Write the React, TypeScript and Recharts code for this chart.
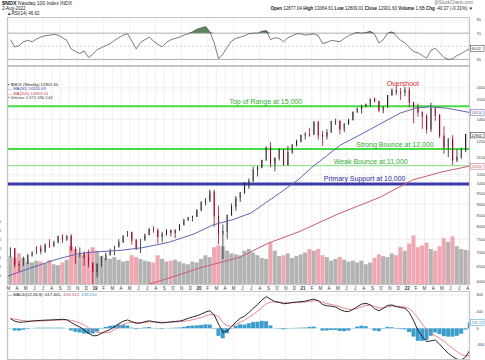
import React from 'react';
import {
  ComposedChart, Bar, Line, Area, XAxis, YAxis, CartesianGrid,
  ReferenceLine, ReferenceDot, Cell,
} from 'recharts';

const FONT = '"Liberation Sans", Arial, sans-serif';
const W = 485;

// time axis: months since Jan 2018, one row per half month from Mar 2018
const t0 = 2.25;
const step = 0.5;
const X_DOMAIN: [number, number] = [1.85, 55.25];

const monthLetters = ['J', 'F', 'M', 'A', 'M', 'J', 'J', 'A', 'S', 'O', 'N', 'D'];
const yearLabels = ['19', '20', '21', '22'];
const monthTicks = Array.from({ length: 54 }, (_, i) => i + 2);

// labels hidden behind the value boxes are left out, as in the original
const priceTicks = [6000, 6500, 7000, 7500, 8000, 8500, 9000, 9500, 10000, 10500, 11500,
  12000, 12500, 13500, 14000, 15000, 15500, 16000, 16500];
const volTicks = [100, 200, 300, 400, 500, 600, 700];
const rsiTicks = [30, 70, 90];
const macdTicks = [-400, -200, 0, 400, 600, 800];

const firstOpen = 6870;
const closes = [
  7150, 6580, 6550, 6620, 6900, 6970, 7170, 7040, 7290, 7240, 7390, 7620, 7470, 7630, 7100, 6960, 6980, 6820, 6610, 6330,
  6580, 6800, 6900, 7050, 7200, 7380, 7620, 7780, 7460, 7130, 7470, 7670, 7900, 7850, 7600, 7700, 7860, 7750, 7850, 8080, 8300, 8400, 8450, 8730,
  9100, 9150, 9600, 8460, 7700, 7810, 8500, 8890, 9300, 9550, 9900, 10150, 10760, 10900, 11300, 12100, 11100, 11420, 11900, 11050, 11800, 12270, 12500, 12890,
  12950, 12930, 13800, 12900, 12800, 13090, 13850, 13860, 13300, 13690, 13950, 14550, 14800, 14960, 15150, 15580, 15400, 14690, 14900, 15850, 16300, 16130, 16100, 16320,
  15300, 14930, 14500, 14240, 13300, 14840, 14300, 12850, 12100, 12640, 11300, 11500, 11900, 12950, 12902,
];
const highs = [
  7190, 7150, 6700, 6850, 6950, 7050, 7230, 7280, 7340, 7500, 7440, 7640, 7700, 7660, 7700, 7220, 7190, 7050, 7100, 6660,
  6620, 6880, 6990, 7140, 7250, 7500, 7660, 7830, 7800, 7520, 7520, 7720, 7950, 8030, 7940, 7800, 7900, 7890, 7900, 8120, 8330, 8420, 8480, 8770,
  9140, 9300, 9720, 9710, 8930, 8100, 8530, 9040, 9390, 9600, 10100, 10300, 10950, 11000, 11350, 12150, 12440, 11500, 12050, 12000, 12190, 12300, 12600, 12940,
  13100, 13400, 13880, 13880, 13200, 13300, 13900, 14060, 13950, 13720, 14050, 14580, 14900, 15120, 15200, 15600, 15700, 15400, 15000, 15900, 16450, 16760, 16500, 16600,
  16570, 15300, 15200, 14600, 14400, 15270, 14900, 14400, 13500, 12700, 12900, 12000, 12100, 13000, 13065,
];
const lows = [
  6850, 6480, 6310, 6530, 6590, 6850, 6950, 6930, 6990, 7170, 7210, 7340, 7360, 7450, 7040, 6600, 6830, 6530, 6480, 5900,
  6150, 6500, 6720, 6900, 6900, 7200, 7360, 7600, 7300, 7090, 6980, 7450, 7660, 7760, 7340, 7380, 7640, 7600, 7550, 7830, 8070, 8250, 8230, 8420,
  8680, 8950, 9110, 8000, 7300, 6770, 7500, 8480, 8700, 9100, 9500, 9750, 10100, 10400, 10850, 11300, 10900, 10680, 11300, 11000, 11000, 11700, 12150, 12400,
  12600, 12800, 12900, 12600, 12200, 12600, 13050, 13600, 12950, 13100, 13600, 13950, 14500, 14430, 14900, 14950, 15300, 14530, 14450, 14900, 15850, 15900, 15500, 15800,
  14900, 13720, 14200, 13320, 13000, 13100, 13900, 12700, 11700, 11500, 11040, 11200, 11400, 11800, 12600,
];
const volumes = [
  320, 300, 350, 300, 260, 250, 270, 260, 240, 280, 230, 220, 250, 280, 430, 400, 340, 330, 370, 420,
  380, 320, 300, 290, 310, 280, 260, 270, 330, 310, 290, 270, 260, 250, 330, 290, 260, 270, 280, 260, 240, 230, 260, 250,
  290, 330, 310, 420, 440, 430, 380, 350, 340, 330, 380, 400, 360, 330, 300, 290, 470, 380, 320, 330, 350, 300, 320, 340,
  360, 400, 380, 400, 330, 310, 270, 290, 310, 280, 260, 270, 250, 270, 230, 250, 300, 340, 320, 310, 350, 330, 420, 380,
  460, 550, 420, 440, 470, 400, 380, 430, 520, 480, 540, 430, 400, 390, 380,
];
const rsi14 = [
  60, 49, 51, 57, 59, 57, 61, 64, 66, 67, 68, 67, 63, 59, 46, 42, 39, 43, 33, 38,
  45, 48, 51, 54, 59, 63, 67, 69, 58, 46, 56, 60, 64, 58, 53, 49, 56, 60, 62, 64,
  67, 69, 72, 76, 78, 80, 72, 55, 31, 38, 49, 58, 62, 64, 66, 69, 70, 70, 73, 74,
  60, 63, 62, 57, 63, 66, 69, 69, 67, 68, 69, 66, 54, 56, 59, 58, 57, 62, 66, 69,
  71, 70, 71, 73, 68, 55, 60, 70, 72, 66, 59, 55, 48, 42, 40, 36, 32, 44, 47, 40,
  33, 30, 31, 36, 39, 43, 46.62,
];
const macdLine = [
  230, 170, 145, 150, 160, 175, 185, 190, 195, 200, 205, 210, 215, 205, 140, 80, 30, -40, -120, -180,
  -175, -120, -70, -30, 40, 110, 170, 200, 160, 120, 125, 160, 180, 160, 140, 130, 140, 155, 165, 175,
  200, 240, 270, 300, 340, 390, 420, 320, 100, -100, -60, 40, 150, 240, 290, 380, 480, 570, 680, 760,
  700, 640, 620, 590, 600, 620, 630, 640, 650, 680, 700, 660, 570, 540, 530, 510, 450, 410, 400, 450,
  520, 580, 600, 560, 470, 420, 480, 550, 560, 520, 500, 480, 380, 180, -50, -200, -320, -300, -280, -380,
  -500, -600, -680, -740, -760, -690, -517,
];
const signalLine = [
  235, 220, 200, 185, 175, 172, 172, 175, 180, 185, 190, 195, 200, 202, 190, 165, 130, 85, 10, -55,
  -95, -110, -105, -90, -30, 20, 85, 130, 145, 140, 135, 140, 150, 155, 150, 145, 143, 145, 150, 156,
  165, 185, 205, 230, 260, 295, 330, 330, 280, 140, 60, 50, 90, 145, 200, 260, 330, 410, 500, 590,
  630, 635, 630, 615, 610, 612, 618, 625, 632, 645, 660, 660, 625, 595, 570, 550, 515, 480, 455, 455,
  480, 515, 550, 555, 525, 490, 490, 515, 535, 530, 520, 508, 470, 380, 250, 100, -40, -120, -180, -240,
  -310, -400, -480, -560, -630, -660, -656,
];
const macdHist = [
  -5, -50, -55, -35, -15, 3, 13, 15, 15, 15, 15, 15, 15, 3, -50, -85, -100, -125, -130, -125,
  -80, -10, 35, 60, 70, 90, 85, 70, 15, -20, -10, 20, 30, 5, -10, -15, -3, 10, 15, 19,
  35, 55, 65, 70, 80, 95, 90, -10, -180, -240, -120, -10, 60, 95, 90, 120, 150, 160, 180, 170,
  70, 5, -10, -25, -10, 8, 12, 15, 18, 35, 40, 0, -55, -55, -40, -40, -65, -70, -55, -5,
  40, 65, 50, 5, -55, -70, -10, 35, 25, -10, -20, -28, -90, -200, -300, -300, -280, -180, -100, -140,
  -190, -200, -200, -180, -130, -30, 139,
];

const ma50T = [1.85, 4, 7.5, 10, 12, 15, 17.5, 20.5, 23.5, 25.6, 28, 30, 33.3, 35.4, 37, 40.3, 42.9, 45.7, 47.2, 49, 50.6, 52.5, 55.25];
const ma50V = [6180, 6400, 6750, 6950, 7020, 7080, 7180, 7380, 7720, 8080, 8320, 8600, 9540, 10210, 10900, 12250, 13020, 13950, 14470, 14850, 14950, 14850, 14510];
const ma200T = [16.5, 20, 24.1, 28.7, 32, 35.6, 40, 44.9, 48.6, 52, 55.25];
const ma200V = [5800, 6080, 6460, 6830, 7350, 7810, 8550, 9340, 10210, 10650, 10980];

const notes = [
  { text: 'Overshoot', t: 47.5, p: 16840, color: '#d42a2a' },
  { text: 'Top of Range at 15,000', t: 31.7, p: 15370, color: '#2fae2f' },
  { text: 'Strong Bounce at 12,000', t: 46.6, p: 12285, color: '#2fae2f' },
  { text: 'Weak Bounce at 11,000', t: 43.8, p: 11243, color: '#2fae2f' },
  { text: 'Primary Support at 10,000', t: 43.1, p: 10264, color: '#2a2a9c' },
];

const PRICE_DOMAIN: [number, number] = [5910, 18490];

const priceRows = closes.map((c, i) => {
  const o = i === 0 ? firstOpen : closes[i - 1];
  return { t: t0 + i * step, o, c, h: highs[i], l: lows[i], hl: [lows[i], highs[i]] };
});
const volRows = volumes.map((v, i) => ({ t: t0 + i * step, v, down: priceRows[i].c < priceRows[i].o }));
const rsiRows = rsi14.map((r, i) => ({ t: t0 + i * step, rsi: r, over: [70, Math.max(70, r)] }));
const macdRows = macdLine.map((m, i) => ({ t: t0 + i * step, macd: m, sig: signalLine[i], hist: macdHist[i] }));
const ma50Rows = ma50T.map((t, i) => ({ t, v: ma50V[i] }));
const ma200Rows = ma200T.map((t, i) => ({ t, v: ma200V[i] }));

const axisTick = { fontSize: 3.9, fill: '#444', fontFamily: FONT };

const MonthTick = (props: any) => {
  const { x, y, payload } = props;
  const v = payload.value;
  const m = v % 12;
  const label = m === 0 ? yearLabels[v / 12 - 1] : monthLetters[m];
  return (
    <text x={x} y={y + 4.5} textAnchor="middle" fontSize={4.5} fontFamily={FONT}
      fontWeight={m === 0 ? 700 : 400} fill="#333">{label}</text>
  );
};

const Candle = (props: any) => {
  const { x, y, width, height, payload } = props;
  if (!payload) return null;
  const { o, c, h, l } = payload;
  const top = Math.min(y, y + height);
  const hh = Math.abs(height);
  const lh = Math.log(h);
  const ll = Math.log(l);
  const py = (v: number) => top + (hh * (lh - Math.log(v))) / (lh - ll);
  const cx = x + width / 2;
  const bTop = py(Math.max(o, c));
  const bBot = py(Math.min(o, c));
  const up = c >= o;
  return (
    <g>
      <line x1={cx} x2={cx} y1={top} y2={top + hh} stroke={up ? '#222' : '#9c0d28'} strokeWidth={0.8} />
      <rect x={x} y={bTop} width={width} height={Math.max(bBot - bTop, 0.8)}
        fill={up ? '#fff' : '#d3183f'} stroke={up ? '#222' : '#8a0a20'} strokeWidth={0.6} />
    </g>
  );
};

const Note = (props: any) => {
  const { cx, cy, text, color } = props;
  return (
    <text x={cx} y={cy} dy={2.3} textAnchor="middle" fontSize={7} fontFamily={FONT} fill={color}>{text}</text>
  );
};

const ValueBox = (props: any) => {
  const { cy, text, color } = props;
  return (
    <g>
      <rect x={470.5} y={cy - 2.8} width={13.5} height={5.6} fill="#fff" stroke={color} strokeWidth={0.5} />
      <text x={471.3} y={cy + 1.5} fontSize={3.8} fontFamily={FONT} fill={color}>{text}</text>
    </g>
  );
};

const abs = (left: number, top: number): React.CSSProperties => ({ position: 'absolute', left, top });

const txt: React.CSSProperties = {
  position: 'absolute', fontFamily: FONT, whiteSpace: 'nowrap', lineHeight: 1, color: '#222',
};

export default function App() {
  return (
    <div style={{ position: 'absolute', left: 0, top: 0, width: W, height: 360, background: '#fff', overflow: 'hidden' }}>
      {/* header */}
      <div style={{ ...txt, left: 2, top: 1, fontSize: 5 }}>
        <b style={{ fontSize: 5.5 }}>$NDX</b> Nasdaq 100 Index INDX
      </div>
      <div style={{ ...txt, left: 2, top: 6.5, fontSize: 4.5 }}>2-Aug-2022</div>
      <div style={{ ...txt, left: 7, top: 12, fontSize: 4.5 }}>▲RSI(14) 46.62</div>
      <div style={{ ...txt, right: 12, top: 1, fontSize: 4.5, color: '#777' }}>@StockCharts.com</div>
      <div style={{ ...txt, right: 12, top: 7, fontSize: 4.5 }}>
        <b>Open</b> 12877.04 <b>High</b> 13064.61 <b>Low</b> 12809.01 <b>Close</b> 12901.60 <b>Volume</b> 1.6B <b>Chg</b> -40.37 (-0.31%) ▼
      </div>

      {/* RSI panel */}
      <div style={abs(0, 17)}>
        <ComposedChart width={W} height={49} data={rsiRows} margin={{ top: 0, right: 0, bottom: 0, left: 7 }}>
          <CartesianGrid stroke="#e6e6e6" strokeWidth={0.6} />
          <XAxis type="number" dataKey="t" domain={X_DOMAIN} ticks={monthTicks} hide allowDataOverflow />
          <YAxis orientation="right" width={15} domain={[20, 94.6]} ticks={rsiTicks} tick={axisTick}
            axisLine={false} tickLine={false} tickMargin={0.5} allowDataOverflow />
          <ReferenceLine y={70} stroke="#999" strokeWidth={0.8} />
          <ReferenceLine y={30} stroke="#999" strokeWidth={0.8} />
          <ReferenceLine y={50} stroke="#bbb" strokeWidth={0.6} strokeDasharray="2 2" />
          <Area type="linear" dataKey="over" stroke="none" fill="#5b875b" fillOpacity={1} isAnimationActive={false} />
          <Line type="linear" dataKey="rsi" stroke="#444" strokeWidth={0.7} dot={false} isAnimationActive={false} />
          <ReferenceDot x={X_DOMAIN[1]} y={46.62} r={0} shape={<ValueBox text="46.62" color="#333" />} />
        </ComposedChart>
      </div>

      {/* price panel: grid + axes */}
      <div style={abs(0, 66)}>
        <ComposedChart width={W} height={227} data={priceRows} margin={{ top: 0, right: 0, bottom: 0, left: 7 }}>
          <CartesianGrid stroke="#e6e6e6" strokeWidth={0.6} />
          <XAxis type="number" dataKey="t" domain={X_DOMAIN} ticks={monthTicks} interval={0} tick={<MonthTick />}
            height={8} axisLine={false} tickLine={false} tickSize={0} tickMargin={0} allowDataOverflow />
          <YAxis orientation="right" width={15} scale="log" domain={PRICE_DOMAIN} ticks={priceTicks}
            tick={axisTick} axisLine={false} tickLine={false} tickMargin={0.5} allowDataOverflow />
          <Line dataKey="c" stroke="none" dot={false} isAnimationActive={false} />
          <ReferenceLine y={15000} stroke="#45dc45" strokeWidth={2} />
          <ReferenceLine y={12000} stroke="#45dc45" strokeWidth={2} />
          <ReferenceLine y={11000} stroke="#7ee07e" strokeWidth={1} />
          <ReferenceLine y={10000} stroke="#3c3ca8" strokeWidth={3} />
        </ComposedChart>
      </div>

      {/* volume */}
      <div style={abs(0, 66)}>
        <ComposedChart width={W} height={227} data={volRows} margin={{ top: 0, right: 15, bottom: 8, left: 0 }}>
          <XAxis type="number" dataKey="t" domain={X_DOMAIN} hide allowDataOverflow />
          <YAxis width={7} domain={[0, 2430]} ticks={volTicks} tick={{ ...axisTick, fontSize: 3.8 }}
            axisLine={false} tickLine={false} tickMargin={0} allowDataOverflow />
          <Bar dataKey="v" barSize={4} isAnimationActive={false}>
            {volRows.map((r, i) => <Cell key={i} fill={r.down ? '#f1a7b2' : '#b3b3b3'} />)}
          </Bar>
        </ComposedChart>
      </div>

      {/* price series */}
      <div style={abs(0, 66)}>
        <ComposedChart width={W} height={227} data={priceRows} margin={{ top: 0, right: 15, bottom: 8, left: 7 }}>
          <XAxis type="number" dataKey="t" domain={X_DOMAIN} hide allowDataOverflow />
          <YAxis hide scale="log" domain={PRICE_DOMAIN} allowDataOverflow />
          <Line data={ma200Rows} dataKey="v" stroke="#c85c70" strokeWidth={1} dot={false} isAnimationActive={false} />
          <Line data={ma50Rows} dataKey="v" stroke="#6464ae" strokeWidth={1} dot={false} isAnimationActive={false} />
          <Bar dataKey="hl" barSize={3} shape={<Candle />} isAnimationActive={false} />
          {notes.map((n) => (
            <ReferenceDot key={n.text} x={n.t} y={n.p} r={0} shape={<Note text={n.text} color={n.color} />} />
          ))}
          <ReferenceDot x={X_DOMAIN[1]} y={14510} r={0} shape={<ValueBox text="14510" color="#5555aa" />} />
          <ReferenceDot x={X_DOMAIN[1]} y={12902} r={0} shape={<ValueBox text="12901" color="#111" />} />
          <ReferenceDot x={X_DOMAIN[1]} y={10963} r={0} shape={<ValueBox text="10963" color="#c85c70" />} />
        </ComposedChart>
      </div>

      {/* price legend */}
      <div style={{ ...txt, left: 8, top: 83, fontSize: 4.2 }}>▪ $NDX (Weekly) 12901.60</div>
      <div style={{ ...txt, left: 8, top: 87.3, fontSize: 4.2, color: '#4444aa' }}>— MA(50) 14510.09</div>
      <div style={{ ...txt, left: 8, top: 91.6, fontSize: 4.2, color: '#c83c55' }}>— MA(200) 10963.14</div>
      <div style={{ ...txt, left: 8, top: 95.9, fontSize: 4.2, color: '#444' }}>▪ Volume 1,671,590,144</div>

      {/* MACD panel */}
      <div style={abs(0, 291)}>
        <ComposedChart width={W} height={69} data={macdRows} margin={{ top: 0, right: 0, bottom: 0, left: 7 }}>
          <CartesianGrid stroke="#e6e6e6" strokeWidth={0.6} />
          <XAxis type="number" dataKey="t" domain={X_DOMAIN} ticks={monthTicks} hide allowDataOverflow />
          <YAxis orientation="right" width={15} domain={[-761, 895]} ticks={macdTicks} tick={axisTick}
            axisLine={false} tickLine={false} tickMargin={0.5} allowDataOverflow />
          <Bar dataKey="hist" fill="#3c9dcc" barSize={4} isAnimationActive={false} />
          <Line type="linear" dataKey="sig" stroke="#e07a84" strokeWidth={0.9} dot={false} isAnimationActive={false} />
          <Line type="linear" dataKey="macd" stroke="#111" strokeWidth={0.9} dot={false} isAnimationActive={false} />
          <ReferenceDot x={X_DOMAIN[1]} y={139} r={0} shape={<ValueBox text="139.22" color="#3c9dcc" />} />
        </ComposedChart>
      </div>
      <div style={{ ...txt, left: 8, top: 293, fontSize: 4.2 }}>
        — MACD(12,26,9) -517.401, <span style={{ color: '#d0606c' }}>-656.612,</span>{' '}
        <span style={{ color: '#3c9dcc' }}>139.210</span>
      </div>

      {/* panel frames */}
      <div style={{ position: 'absolute', left: 7, top: 17, width: 463, height: 49, border: '0.5px solid #c4c4c4', boxSizing: 'border-box' }} />
      <div style={{ position: 'absolute', left: 7, top: 66, width: 463, height: 219, border: '0.5px solid #c4c4c4', boxSizing: 'border-box' }} />
      <div style={{ position: 'absolute', left: 7, top: 291, width: 463, height: 69, border: '0.5px solid #c4c4c4', boxSizing: 'border-box' }} />
    </div>
  );
}
